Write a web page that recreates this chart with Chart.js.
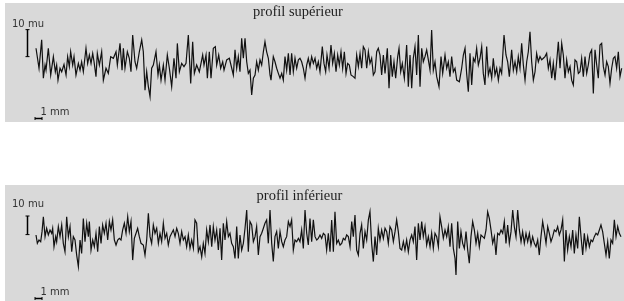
<!DOCTYPE html>
<html>
<head>
<meta charset="utf-8">
<title>profils</title>
<script src="https://cdn.jsdelivr.net/npm/chart.js"></script>
<style>
  html, body { margin: 0; padding: 0; background: #fff; width: 624px; height: 301px; overflow: hidden; }
  .panel { position: absolute; left: 5px; width: 619px; background: #d9d9d9; }
  #topPanel { top: 3px; height: 119px; }
  #bottomPanel { top: 185px; height: 116px; }
  canvas { display: block; }
</style>
</head>
<body>
<div class="panel" id="topPanel"><canvas id="topChart" width="619" height="119"></canvas></div>
<div class="panel" id="bottomPanel"><canvas id="bottomChart" width="619" height="116"></canvas></div>

<script>
// profil supérieur : position (mm) / hauteur (mu)
const topPos = [
  0.00, 0.43, 0.81, 1.05, 1.29, 1.43, 1.76, 2.10, 2.48, 2.76,
  2.95, 3.14, 3.43, 3.67, 4.00, 4.29, 4.52, 4.76, 4.95, 5.24,
  5.43, 5.71, 6.05, 6.29, 6.52, 6.76, 7.14, 7.38, 7.62, 7.86,
  8.10, 8.29, 8.57, 8.76, 9.05, 9.38, 9.62, 10.00, 10.33, 10.67,
  11.05, 11.43, 11.62, 12.00, 12.29, 12.48, 12.71, 13.05, 13.33, 13.57,
  13.81, 14.14, 14.38, 14.76, 15.10, 15.33, 15.57, 15.81, 16.05, 16.29,
  16.52, 16.76, 17.14, 17.43, 17.62, 17.86, 18.19, 18.43, 18.76, 19.05,
  19.38, 19.71, 20.00, 20.19, 20.48, 20.81, 21.14, 21.43, 21.76, 22.10,
  22.38, 22.62, 22.95, 23.33, 23.81, 24.00, 24.29, 24.48, 24.76, 25.00,
  25.33, 25.62, 25.81, 26.10, 26.38, 26.67, 26.86, 27.24, 27.62,
  28.19, 28.43, 28.67, 28.90, 29.14, 29.38, 29.62, 29.86, 30.10, 30.33,
  30.57, 30.81, 31.05, 31.29, 31.52, 31.76, 32.00, 32.24, 32.48, 32.71,
  32.95, 33.19, 33.43, 33.57, 33.90, 34.14, 34.38, 34.62, 34.86, 35.10,
  35.33, 35.57, 35.81, 36.05, 36.29, 36.52, 36.76, 37.00, 37.24, 37.48,
  37.71, 37.95, 38.19, 38.43, 38.67, 38.90, 39.14, 39.38, 39.62, 39.86,
  40.10, 40.33, 40.57, 40.90, 41.14, 41.38, 41.57, 41.86, 42.14, 42.38,
  42.62, 42.86, 43.10, 43.33, 43.57, 43.81, 44.05, 44.29, 44.52, 44.76,
  45.00, 45.33, 45.57, 45.81, 46.05, 46.29, 46.52, 46.76, 47.00, 47.24,
  47.48, 47.71, 47.95, 48.19, 48.43, 48.67, 48.90, 49.14, 49.38, 49.62,
  49.86, 50.19, 50.43, 50.67, 50.90, 51.14, 51.38, 51.67, 51.86, 52.10,
  52.33, 52.62, 52.95, 53.19, 53.43, 53.67, 53.90, 54.14, 54.38, 54.62,
  54.86, 55.10, 55.33, 55.57,
  55.81, 56.05, 56.29, 56.52, 56.76, 57.00, 57.24, 57.57, 57.86, 58.10,
  58.43, 58.67, 58.90, 59.14, 59.38, 59.62, 59.86, 60.10, 60.48, 60.81,
  61.05, 61.29, 61.52, 61.76, 62.00, 62.24, 62.48, 62.71, 62.95, 63.19,
  63.43, 63.67, 63.90, 64.14, 64.38, 64.62, 64.86, 65.10, 65.33, 65.57,
  65.81, 66.05, 66.29, 66.52, 66.86, 67.14, 67.38, 67.62, 67.95, 68.19,
  68.43, 68.67, 68.90, 69.14, 69.38, 69.62, 69.86, 70.10, 70.33, 70.57,
  70.81, 71.05, 71.29, 71.52, 71.76, 72.00, 72.24, 72.48, 72.71, 72.95,
  73.19, 73.43, 73.67, 73.90, 74.14, 74.38, 74.62, 74.86, 75.10, 75.33,
  75.57, 75.81, 76.05, 76.29, 76.52, 76.76, 77.00, 77.24, 77.48, 77.71,
  77.95, 78.19, 78.43, 78.67, 78.90, 79.14, 79.38, 79.62, 79.86, 80.10,
  80.33, 80.57, 80.81, 81.05, 81.29, 81.52, 81.76, 82.00, 82.24, 82.48,
  82.71, 82.95, 83.19, 83.43, 83.67
];
const topMu = [
  6.2, -1.2, 9.3, -4.9, 0, -1.9, 6.2, -3.7, 3.1, -2.5,
  0, -5.6, -1.2, -2.5, 0.2, -3.7, 3.1, -0.6, 4.9, 0,
  3.1, -3.7, 0.6, -1.9, 1.2, -2.5, 6.2, 0.6, 3.7, 0.6,
  4.3, 1.2, -4.3, 4.3, 0, 4.9, -5.6, -1.2, -3.1, 3.1,
  2.5, 4.9, 0, 8.0, -1.9, 6.2, -1.2, 4.9, 2.5, -2.5,
  11.1, 1.2, -1.2, 4.9, 9.3, 4.9, -9.3, -2.5, -8.0, -11.7,
  -1.2, 0, 4.9, -3.7, 0, -5.6, 0, -5.6, 3.7, -1.2,
  -8.0, 2.5, -4.9, 8.0, -2.5, 0.6, -0.6, 0.6, 11.1, -6.8,
  8.6, -3.1, 0, -2.5, 3.7, 0, 3.7, -4.9, 4.9, -4.9,
  6.2, 6.8, 0, 3.7, -1.2, 1.2, -1.9, 1.9, 2.5,
  -3.7, 5.6, -1.2, 3.1, -2.5, 9.9, 2.5, 9.9, 1.2, -3.1,
  -1.9, -11.1, -4.9, -3.7, 1.2, -1.9, 1.9, 0, 4.9, 8.6,
  4.9, 2.5, -3.7, -5.6, 3.1, 1.2, -1.2, -3.1, -4.9, -3.1,
  -5.6, 3.1, -1.9, 4.3, -3.7, 4.3, -2.5, 2.5, -1.2, 1.9,
  2.5, 1.2, -1.2, -4.9, 0, 2.5, -0.6, 3.1, 0.6, 2.5,
  -1.2, 1.2, -2.5, 6.8, 0.6, -2.5, 3.7, -1.2, 7.4, 0.6,
  4.3, -2.5, 3.7, 0, 4.9, -1.2, 4.9, -3.1, 0.6, 0,
  -3.7, -4.3, -4.9, 3.7, -0.6, 4.3, -1.2, 6.8, 5.6, -1.2,
  4.9, 0.6, 2.5, -3.7, -2.5, 4.9, 6.2, 3.7, -3.7, 3.7,
  -3.1, 6.2, -8.6, 3.7, -4.3, 1.2, -4.9, 3.1, 6.2, -2.5,
  0.6, -4.9, 7.4, -8.0, 3.7, -8.6, 2.5, 6.8, -3.7, 11.1,
  -8.0, 6.2, 1.2, 3.1,
  5.6, 1.9, -1.9, 13.0, -1.9, 1.2, -4.3, -8.0, 3.1, -3.1,
  3.7, -1.2, 1.2, -4.3, 3.1, -2.5, -1.2, -5.6, -6.2, -1.2,
  3.7, 6.2, -3.1, -9.9, 4.3, -7.4, 2.5, 1.2, 6.2, 0,
  2.5, 6.8, -3.1, -7.4, 6.8, -3.7, -1.2, -4.9, 2.5, -3.7,
  -1.2, -5.6, -1.2, -3.1, 11.1, 3.7, 1.2, -4.3, 5.6, -1.9,
  1.2, -2.5, 3.1, -1.2, 8.0, 0, -5.6, 1.2, 4.9, 12.3,
  1.2, -5.6, -2.5, 4.3, 1.2, 3.1, 1.9, 2.5, 3.1, 4.3,
  -1.2, 1.9, -4.9, 0.6, -5.6, 1.2, 8.6, -1.2, 8.0, 3.7,
  -4.9, 1.9, -2.5, -0.6, -5.6, -7.4, 1.9, 1.2, -3.1, -2.5,
  2.5, -4.3, 3.1, -3.1, 0, 4.3, 5.6, -10.5, 5.6, 0,
  -4.9, 7.4, 8.0, -0.6, -3.7, 1.2, -0.6, -6.8, -1.2, 2.5,
  3.1, -1.2, 4.9, -4.3, -1.2
];

// profil inférieur : position (mm) / hauteur (mu)
const bottomPos = [
  0.00, 0.19, 0.43, 0.67, 0.86, 1.05, 1.29, 1.52, 1.76, 2.00,
  2.24, 2.38, 2.57, 2.81, 2.95, 3.19, 3.43, 3.67, 3.90, 4.14,
  4.38, 4.62, 4.86, 5.10, 5.33, 5.57, 5.81, 6.05, 6.29, 6.52,
  6.76, 7.00, 7.24, 7.48, 7.62, 7.86, 8.10, 8.33, 8.57, 8.81,
  9.05, 9.29, 9.52, 9.76, 10.00, 10.24, 10.48, 10.71, 10.95, 11.19,
  11.43, 11.67, 11.90, 12.14, 12.38, 12.62, 12.86, 13.10, 13.33, 13.57,
  13.81, 14.05, 14.29, 14.52, 14.76, 15.00, 15.33, 15.57, 15.81, 16.05,
  16.29, 16.52, 16.76, 17.00, 17.24, 17.48, 17.71, 17.95, 18.19, 18.43,
  18.67, 18.90, 19.14, 19.38, 19.62, 19.86, 20.10, 20.33, 20.57, 20.81,
  21.05, 21.29, 21.52, 21.76, 22.00, 22.24, 22.48, 22.71, 22.95, 23.19,
  23.43, 23.67, 23.90, 24.14, 24.38, 24.62, 24.86, 25.10, 25.33, 25.57,
  25.81, 26.05, 26.29, 26.52, 26.76, 27.00, 27.24, 27.48, 27.71,
  27.95, 28.19, 28.43, 28.67, 28.90, 29.14, 29.38, 29.62, 29.86, 30.10,
  30.33, 30.57, 30.81, 31.05, 31.29, 31.52, 31.76, 32.00, 32.24, 32.48,
  32.71, 32.95, 33.19, 33.43, 33.67, 33.90, 34.14, 34.38, 34.62, 34.86,
  35.10, 35.33, 35.57, 35.81, 36.05, 36.29, 36.52, 36.76, 37.00, 37.24,
  37.48, 37.71, 37.95, 38.19, 38.43, 38.67, 38.90, 39.14, 39.38, 39.62,
  39.86, 40.10, 40.33, 40.57, 40.81, 41.05, 41.29, 41.52, 41.76, 42.00,
  42.24, 42.48, 42.71, 42.95, 43.19, 43.43, 43.67, 43.90, 44.14, 44.38,
  44.62, 44.86, 45.10, 45.33, 45.57, 45.81, 46.05, 46.29, 46.52, 46.76,
  47.00, 47.24, 47.48, 47.71, 47.95, 48.19, 48.43, 48.67, 48.90, 49.14,
  49.38, 49.62, 49.86, 50.10, 50.33, 50.57, 50.81, 51.05, 51.29, 51.52,
  51.76, 52.00, 52.24, 52.48, 52.71, 52.95, 53.19, 53.43, 53.67, 53.90,
  54.14, 54.38, 54.62, 54.86, 55.10, 55.33, 55.57,
  55.81, 56.05, 56.29, 56.52, 56.76, 57.00, 57.24, 57.48, 57.71, 57.95,
  58.19, 58.43, 58.67, 58.90, 59.14, 59.38, 59.62, 59.86, 60.00, 60.24,
  60.48, 60.71, 60.95, 61.19, 61.43, 61.67, 61.90, 62.14, 62.38, 62.62,
  62.86, 63.10, 63.33, 63.57, 63.81, 64.05, 64.29, 64.52, 64.76, 65.00,
  65.24, 65.48, 65.71, 65.95, 66.19, 66.43, 66.67, 66.90, 67.14, 67.38,
  67.62, 67.86, 68.10, 68.33, 68.57, 68.81, 69.05, 69.29, 69.52, 69.76,
  70.00, 70.24, 70.48, 70.71, 70.95, 71.19, 71.43, 71.67, 71.90, 72.14,
  72.38, 72.62, 72.86, 73.10, 73.33, 73.57, 73.81, 74.05, 74.29, 74.52,
  74.76, 75.00, 75.24, 75.48, 75.71, 75.95, 76.19, 76.43, 76.67, 76.90,
  77.14, 77.38, 77.62, 77.86, 78.10, 78.33, 78.57, 78.81, 79.05, 79.29,
  79.52, 79.76, 80.00, 80.24, 80.48, 80.71, 80.95, 81.19, 81.43, 81.67,
  81.90, 82.14, 82.38, 82.62, 82.86, 83.10, 83.33, 83.57
];
const bottomMu = [
  2.7, -1.8, 0, -0.9, 4.5, 12.5, 1.8, 6.3, 2.7, 5.4,
  3.6, 6.3, -3.6, 1.8, -0.9, 7.2, 1.8, 8.1, -1.8, -6.3,
  12.5, 1.8, 7.2, -6.3, 1.8, 0, -8.1, -14.3, 0, -7.2,
  11.6, -0.9, 9.0, 1.8, 9.9, -5.4, 0, -3.6, 3.6, -6.3,
  7.2, -1.8, 8.1, 3.6, 9.0, 0, 9.9, 5.4, 10.8, 0,
  -2.7, 0, 0.9, 0, 5.4, 9.0, 3.6, 12.5, 4.5, 9.9,
  -10.8, 0.9, 3.6, 6.3, 1.8, -1.8, -2.7, -8.1, 0, 14.3,
  1.8, -1.8, 8.1, 3.6, 6.3, -1.8, 3.6, -0.9, 9.0, 0.9,
  3.6, -2.7, 1.8, 3.6, 5.4, 1.8, 6.3, 3.6, -1.8, 4.5,
  0, 1.8, -3.6, 2.7, -4.5, 0, -4.5, 10.8, 9.0, -6.3,
  -3.6, -9.0, -1.8, -7.2, 5.4, -0.9, 8.1, -3.6, 7.2, 0,
  5.4, -5.4, 6.3, -10.8, 9.0, 0, 9.9, 1.8, 3.6,
  -1.8, -3.6, -9.9, 7.2, -9.9, 2.7, -5.4, -1.8, 6.3, 16.1,
  -6.3, 9.9, 8.1, -0.9, 1.8, 7.2, -8.1, 1.8, 3.6, 6.3,
  9.0, 10.8, -1.8, 16.1, -1.8, -11.6, 1.8, 4.5, -4.5, 4.5,
  -0.9, -3.6, 0, 1.8, 9.9, 7.2, 10.8, -5.4, 0, -0.9,
  0.9, -0.9, 5.4, -4.5, 16.1, 3.6, -2.7, 11.6, -0.9, 10.8,
  1.8, 0, 0.9, 2.7, 0.9, 3.6, 2.7, -5.4, 3.6, -6.3,
  10.8, -6.3, 15.2, -1.8, 0, -2.7, -1.8, 0.9, 0, 2.7,
  1.8, -3.6, 9.9, 1.8, 13.4, -5.4, -8.1, 3.6, 8.1, -4.5,
  4.5, 0, 10.8, 15.2, -1.8, -11.6, 1.8, -8.1, 6.3, 0,
  5.4, 0.9, 6.3, 4.5, -1.8, 7.2, 5.4, -0.9, 4.5, 10.8,
  4.5, -4.5, -5.4, -0.9, -5.4, 0, -6.3, 0, 2.7, -0.9,
  7.2, -10.8, 9.0, 0, 9.9, 1.8, 7.2,
  -2.7, 1.8, -3.6, 3.6, -4.5, 3.6, 1.8, -3.6, 12.5, 7.2,
  0.9, 5.4, 1.8, 7.2, -3.6, 9.0, -4.5, -9.9, -18.8, 9.9,
  -4.5, 4.5, -1.8, -4.5, 4.5, -5.4, -12.5, 1.8, 9.9, 5.4,
  -1.8, 3.6, -3.6, 2.7, 1.8, 0.9, 5.4, 15.2, 11.6, 5.4,
  -1.8, 1.8, -8.1, 3.6, 2.7, 5.4, 3.6, 9.9, -1.8, 8.1,
  -1.8, 4.5, 16.1, 7.2, 1.8, 16.1, 5.4, -0.9, 4.5, -1.8,
  3.6, -0.9, 3.6, -2.7, 1.8, -1.8, -3.6, 0, -8.1, 1.8,
  9.9, 4.5, -1.8, 7.2, 3.6, -0.9, 1.8, 5.4, 4.5, 7.2,
  2.7, 5.4, 10.8, -11.6, 5.4, -5.4, 1.8, -3.6, 5.4, -7.2,
  2.7, -4.5, 12.5, 1.8, -8.1, 3.6, -4.5, 1.8, -3.6, 0,
  -0.9, 1.8, 3.6, 2.7, 5.4, 8.1, 4.5, -1.8, -8.1, -0.9,
  -9.9, 0, -1.8, 10.8, 1.8, 7.2, 3.6, 1.8
];

const titles = ['profil supérieur', 'profil inférieur'];

// draws the title and the two scale bars (10 mu, 1 mm) using the chart scales
const marksPlugin = {
  id: 'marks',
  afterDraw(chart, args, o) {
    const { ctx, scales: { x, y } } = chart;
    ctx.save();
    ctx.fillStyle = '#1e1e1e';
    ctx.font = '14.5px "Liberation Serif", "Times New Roman", serif';
    ctx.textAlign = 'center';
    ctx.textBaseline = 'alphabetic';
    ctx.fillText(o.title, o.titleX, o.titleY);

    ctx.strokeStyle = '#000';
    // vertical 10 mu bar
    const bx = Math.round(x.getPixelForValue(o.muBarAt)) + 0.5;
    const y0 = y.getPixelForValue(o.muBarFrom);
    const y1 = y.getPixelForValue(o.muBarFrom + 10);
    ctx.lineWidth = 1.5;
    ctx.beginPath(); ctx.moveTo(bx, y0); ctx.lineTo(bx, y1); ctx.stroke();
    ctx.lineWidth = 1;
    ctx.beginPath();
    ctx.moveTo(bx - 2, y0); ctx.lineTo(bx + 2, y0);
    ctx.moveTo(bx - 2, y1); ctx.lineTo(bx + 2, y1);
    ctx.stroke();
    ctx.fillStyle = '#333';
    ctx.font = '10px "DejaVu Sans", sans-serif';
    ctx.textAlign = 'left';
    ctx.fillText('10 mu', 7, y1 - o.muTextGap);

    // horizontal 1 mm bar
    const mx0 = x.getPixelForValue(o.mmBarFrom);
    const mx1 = x.getPixelForValue(o.mmBarFrom + 1);
    const my = Math.round(y.getPixelForValue(o.mmBarAt)) + 0.5;
    ctx.lineWidth = 1.5;
    ctx.beginPath(); ctx.moveTo(mx0, my); ctx.lineTo(mx1, my); ctx.stroke();
    ctx.lineWidth = 1;
    ctx.beginPath();
    ctx.moveTo(mx0, my - 1.5); ctx.lineTo(mx0, my + 1.5);
    ctx.moveTo(mx1, my - 1.5); ctx.lineTo(mx1, my + 1.5);
    ctx.stroke();
    ctx.fillText('1 mm', mx0 + 5.5, my - 4);
    ctx.restore();
  }
};

function makeProfile(id, pos, mu, yMin, yMax, marks) {
  return new Chart(document.getElementById(id), {
    type: 'line',
    data: {
      datasets: [{
        data: pos.map((p, i) => ({ x: p, y: mu[i] })),
        borderColor: '#111',
        borderWidth: 1.2,
        pointRadius: 0,
        tension: 0,
        fill: false
      }]
    },
    options: {
      responsive: false,
      animation: false,
      events: [],
      layout: { padding: 0 },
      scales: {
        x: { type: 'linear', min: -4.43, max: 84.0, display: false },
        y: { min: yMin, max: yMax, display: false }
      },
      plugins: {
        legend: { display: false },
        tooltip: { enabled: false },
        marks: marks
      }
    },
    plugins: [marksPlugin]
  });
}

makeProfile('topChart', topPos, topMu, -21.1, 22.96, {
  title: titles[0], titleX: 293, titleY: 13,
  muBarAt: -1.24, muBarFrom: 3.1, muTextGap: 2.5,
  mmBarFrom: -0.14, mmBarAt: -19.7
});
makeProfile('bottomChart', bottomPos, bottomMu, -32.8, 29.57, {
  title: titles[1], titleX: 294.5, titleY: 15,
  muBarAt: -1.24, muBarFrom: 2.9, muTextGap: 9,
  mmBarFrom: -0.14, mmBarAt: -31.0
});
</script>
</body>
</html>
